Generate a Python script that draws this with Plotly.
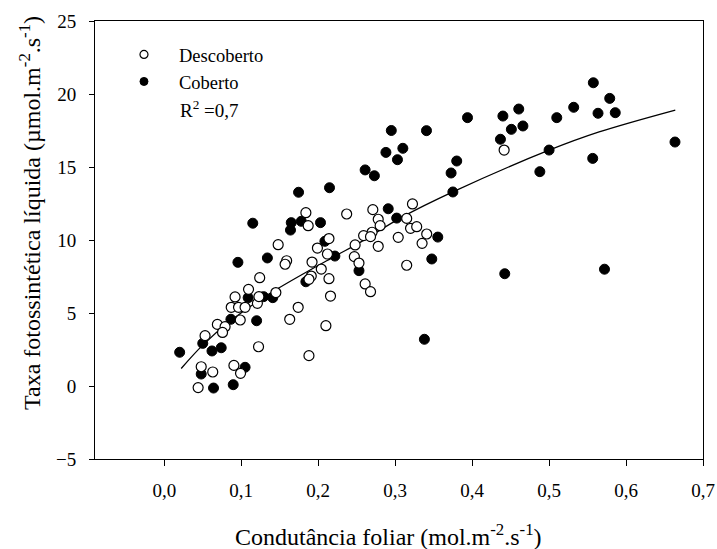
import plotly.graph_objects as go

# Descoberto (open circles)
desc_x = [0.044, 0.048, 0.063, 0.053, 0.069, 0.079, 0.0757, 0.087, 0.092, 0.0965, 0.105,
          0.0987, 0.1095, 0.124, 0.121, 0.1225, 0.0905, 0.0991, 0.123, 0.148, 0.145,
          0.184, 0.187, 0.199, 0.214, 0.212, 0.159, 0.157, 0.192, 0.204, 0.191, 0.188,
          0.214, 0.216, 0.174, 0.163, 0.210, 0.188, 0.237, 0.271, 0.278, 0.2805, 0.270,
          0.259, 0.268, 0.248, 0.278, 0.247, 0.253, 0.261, 0.268, 0.304, 0.315, 0.315,
          0.320, 0.4416, 0.3225, 0.328, 0.341, 0.335]
desc_y = [-0.11, 1.32, 0.96, 3.45, 4.22, 4.06, 3.67, 5.39, 6.1, 5.39, 5.39,
          4.52, 6.62, 7.42, 5.66, 2.69, 1.41, 0.87, 6.12, 9.68, 6.4,
          11.87, 10.98, 9.45, 10.1, 9.04, 8.58, 8.34, 8.49, 8.01, 7.53, 7.31,
          7.35, 6.16, 5.39, 4.57, 4.13, 2.08, 11.78, 12.08, 11.42, 10.98, 10.53,
          10.3, 10.23, 9.66, 9.57, 8.86, 8.42, 6.99, 6.46, 10.18, 8.27, 11.48,
          10.8, 16.16, 12.47, 10.91, 10.41, 9.77]

# Coberto (filled circles)
cob_x = [0.0957, 0.134, 0.020, 0.050, 0.062, 0.074, 0.0866, 0.109, 0.120, 0.129, 0.141,
         0.048, 0.064, 0.0896, 0.105, 0.115,
         0.1745, 0.2147, 0.165, 0.178, 0.164, 0.203, 0.2087, 0.2217, 0.184, 0.253,
         0.291, 0.302, 0.261, 0.273, 0.288, 0.295,
         0.5575, 0.532, 0.5636, 0.510, 0.4606, 0.440, 0.451, 0.466, 0.4368, 0.394,
         0.3407, 0.310, 0.303, 0.380, 0.3727, 0.375, 0.5, 0.488, 0.5567, 0.3554,
         0.3476, 0.4424, 0.5788, 0.586, 0.6636, 0.572, 0.338]
cob_y = [8.47, 8.77, 2.31, 2.92, 2.40, 2.62, 4.57, 6.05, 4.47, 6.12, 6.05,
         0.82, -0.14, 0.09, 1.28, 11.15,
         13.27, 13.58, 11.19, 11.28, 10.68, 11.19, 9.91, 8.9, 7.14, 7.9,
         12.14, 11.5, 14.8, 14.4, 16.0, 17.5,
         20.77, 19.09, 18.68, 18.38, 18.97, 18.49, 17.58, 17.81, 16.9, 18.38,
         17.49, 16.28, 15.5, 15.41, 14.59, 13.29, 16.16, 14.68, 15.59, 10.2,
         8.7, 7.69, 19.7, 18.72, 16.71, 8.0, 3.2]

# Fitted curve
fit_x = [0.022, 0.05, 0.087, 0.136, 0.222, 0.25, 0.31, 0.375, 0.5, 0.565, 0.664]
fit_y = [1.2, 2.8, 4.5, 6.3, 8.9, 9.7, 11.6, 13.3, 16.15, 17.4, 18.9]

x_ticks = [0.0, 0.1, 0.2, 0.3, 0.4, 0.5, 0.6, 0.7]
y_ticks = [-5, 0, 5, 10, 15, 20, 25]

FONT = "Liberation Serif, Times New Roman, serif"

fig = go.Figure()
fig.add_trace(go.Scatter(
    x=fit_x, y=fit_y, mode="lines", line=dict(color="black", width=1.3, shape="spline"),
    showlegend=False, hoverinfo="skip"))
fig.add_trace(go.Scatter(
    x=cob_x, y=cob_y, mode="markers", name="Coberto", showlegend=False,
    marker=dict(symbol="circle", size=10, color="black", line=dict(color="black", width=1))))
fig.add_trace(go.Scatter(
    x=desc_x, y=desc_y, mode="markers", name="Descoberto", showlegend=False,
    marker=dict(symbol="circle", size=10, color="white", line=dict(color="black", width=1.2))))
# legend entries (smaller symbols, as in the original key)
fig.add_trace(go.Scatter(
    x=[None], y=[None], mode="markers", name="Descoberto", legendrank=1,
    marker=dict(symbol="circle", size=8, color="white", line=dict(color="black", width=1.2))))
fig.add_trace(go.Scatter(
    x=[None], y=[None], mode="markers", name="Coberto", legendrank=2,
    marker=dict(symbol="circle", size=8, color="black", line=dict(color="black", width=1))))

fig.update_layout(
    width=717, height=549,
    margin=dict(l=95, r=14, t=21, b=90),
    plot_bgcolor="white", paper_bgcolor="white",
    separators=",.",
    font=dict(family=FONT, size=19, color="black"),
    showlegend=True,
    legend=dict(x=0.023, y=0.966, xanchor="left", yanchor="top",
                bgcolor="rgba(0,0,0,0)", font=dict(family=FONT, size=18.5),
                itemwidth=60, traceorder="normal"),
    annotations=[
        dict(xref="paper", yref="paper", x=0.1365, y=0.7672, xanchor="left", yanchor="bottom",
             text="R<sup>2</sup> =0,7", showarrow=False, font=dict(family=FONT, size=19)),
        dict(xref="paper", yref="paper", x=0.483, y=-0.2123, xanchor="center", yanchor="bottom",
             text="Condutância foliar (mol.m<sup>-2</sup>.s<sup>-1</sup>)", showarrow=False,
             font=dict(family=FONT, size=24)),
        dict(xref="paper", yref="paper", x=-0.107, y=0.5616, xanchor="center", yanchor="middle",
             textangle=-90,
             text="Taxa fotossintética líquida (µmol.m<sup>-2</sup>.s<sup>-1</sup>)", showarrow=False,
             font=dict(family=FONT, size=24)),
    ],
)
fig.update_xaxes(
    range=[-0.09, 0.7], tickvals=x_ticks, tickformat=".1f", automargin=False,
    showline=True, linecolor="black", linewidth=1, mirror=True,
    ticks="outside", ticklen=6, tickcolor="black", showgrid=False, zeroline=False,
    tickfont=dict(family=FONT, size=19), ticklabelstandoff=8)
fig.update_yaxes(
    range=[-5, 25], tickvals=y_ticks, automargin=False,
    showline=True, linecolor="black", linewidth=1, mirror=True,
    ticks="outside", ticklen=5, tickcolor="black", showgrid=False, zeroline=False,
    tickfont=dict(family=FONT, size=19), ticklabelstandoff=9)

fig.write_html("out.html", config={"displayModeBar": False},
               post_script="document.body.style.margin='0';document.body.style.overflow='hidden';")
